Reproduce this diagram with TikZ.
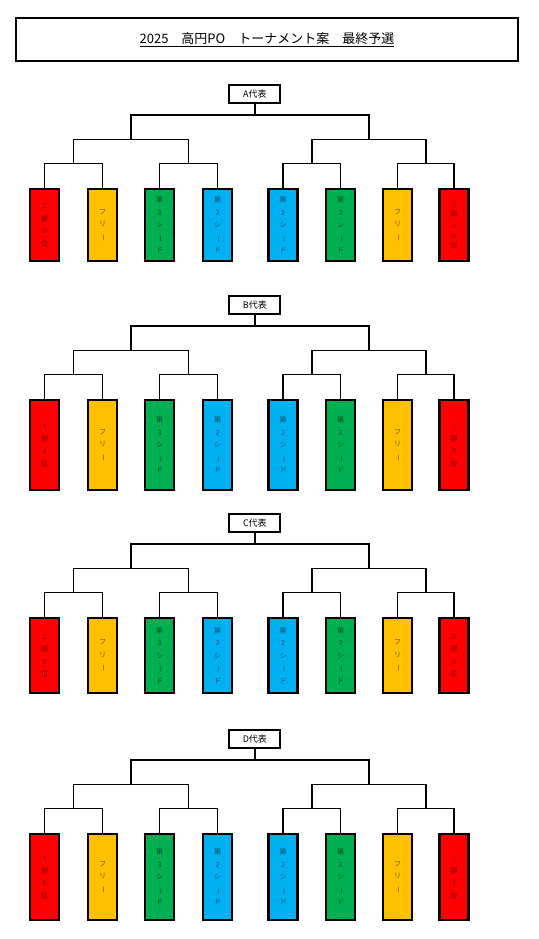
\documentclass[tikz,border=0pt]{standalone}
\usepackage{fontspec}
\setmainfont{Noto Sans CJK JP}
\usepackage{graphicx}
\usetikzlibrary{positioning, calc}

\definecolor{ichibured}{HTML}{FF0000}
\definecolor{freeyellow}{HTML}{FFC000}
\definecolor{thirdgreen}{HTML}{00B050}
\definecolor{secondblue}{HTML}{00B0F0}

\newcommand{\chouon}{\rotatebox[origin=c]{-90}{ー}}

\begin{document}
\begin{tikzpicture}[x=1pt, y=-1pt,
        team/.style={rectangle, draw=black, line width=2.3pt, minimum width=29pt, inner sep=0pt, align=center, anchor=north, font=\fontsize{7}{12.5}\selectfont},
        ichibu/.style={team, fill=ichibured, text=ichibured!45!black},
        free/.style={team, fill=freeyellow, text=freeyellow!45!black},
        third/.style={team, fill=thirdgreen, text=thirdgreen!45!black},
        second/.style={team, fill=secondblue, text=secondblue!45!black},
        rep/.style={rectangle, draw=black, line width=1.8pt, minimum width=51pt, minimum height=18pt, inner sep=0pt, font=\fontsize{9}{9}\selectfont},
        titlebox/.style={rectangle, draw=black, line width=2.5pt, minimum width=502pt, minimum height=43pt, font=\fontsize{13}{13}\selectfont},
        tree/.style={line width=1.9pt, draw=black}
    ]
    \useasboundingbox (0,0) rectangle (538,939);

    % Title
    \node[titlebox] (title) at (267,39.5) {\underline{2025　高円PO　トーナメント案　最終予選}};

    % One bracket per representative slot
    \foreach \lb/\by/\bh/\ra/\rb in {
        A/188/72/{1\\部\\3\\位}/{1\\[-1.8pt]部\\[-1.8pt]1\\[-1.8pt]0\\[-1.8pt]位},
        B/399/90/{1\\部\\4\\位}/{1\\部\\9\\位},
        C/617/75/{1\\部\\5\\位}/{1\\部\\8\\位},
        D/833/86/{1\\部\\6\\位}/{1\\部\\7\\位}} {

    % Teams
    \node[ichibu, minimum height=\bh pt] (\lb-1) at (44.5,\by) {\ra};
    \node[free, minimum height=\bh pt] (\lb-2) at (102.5,\by) {フ\\リ\\\chouon};
    \node[third, minimum height=\bh pt] (\lb-3) at (159.5,\by) {第\\3\\シ\\\chouon\\ド};
    \node[second, minimum height=\bh pt] (\lb-4) at (217.5,\by) {第\\2\\シ\\\chouon\\ド};
    \node[second, minimum height=\bh pt] (\lb-5) at (283,\by) {第\\2\\シ\\\chouon\\ド};
    \node[third, minimum height=\bh pt] (\lb-6) at (340.5,\by) {第\\3\\シ\\\chouon\\ド};
    \node[free, minimum height=\bh pt] (\lb-7) at (397.5,\by) {フ\\リ\\\chouon};
    \node[ichibu, minimum height=\bh pt] (\lb-8) at (454,\by) {\rb};

    % Junctions
    \coordinate (\lb-m1) at ($(\lb-1.north)!0.5!(\lb-2.north)+(0,-24.5)$);
    \coordinate (\lb-m2) at ($(\lb-3.north)!0.5!(\lb-4.north)+(0,-24.5)$);
    \coordinate (\lb-m3) at ($(\lb-5.north)!0.5!(\lb-6.north)+(0,-24.5)$);
    \coordinate (\lb-m4) at ($(\lb-7.north)!0.5!(\lb-8.north)+(0,-24.5)$);
    \coordinate (\lb-n1) at ($(\lb-m1)!0.5!(\lb-m2)+(0,-24)$);
    \coordinate (\lb-n2) at ($(\lb-m3)!0.5!(\lb-m4)+(0,-24)$);
    \coordinate (\lb-t) at ($(\lb-n1)!0.5!(\lb-n2)+(0,-24.5)$);

    % Representative
    \node[rep] (\lb-rep) at ($(\lb-t)+(5,-21)$) {\lb 代表};

    % Bracket lines
    \draw[tree] (\lb-1.north) |- (\lb-m1) -| (\lb-2.north);
    \draw[tree] (\lb-3.north) |- (\lb-m2) -| (\lb-4.north);
    \draw[tree] (\lb-5.north) |- (\lb-m3) -| (\lb-6.north);
    \draw[tree] (\lb-7.north) |- (\lb-m4) -| (\lb-8.north);
    \draw[tree] (\lb-m1) |- (\lb-n1) -| (\lb-m2);
    \draw[tree] (\lb-m3) |- (\lb-n2) -| (\lb-m4);
    \draw[tree] (\lb-n1) |- (\lb-t) -| (\lb-n2);
    \draw[tree] (\lb-rep.south) -- (\lb-rep.south |- \lb-t);
    }

\end{tikzpicture}
\end{document}
